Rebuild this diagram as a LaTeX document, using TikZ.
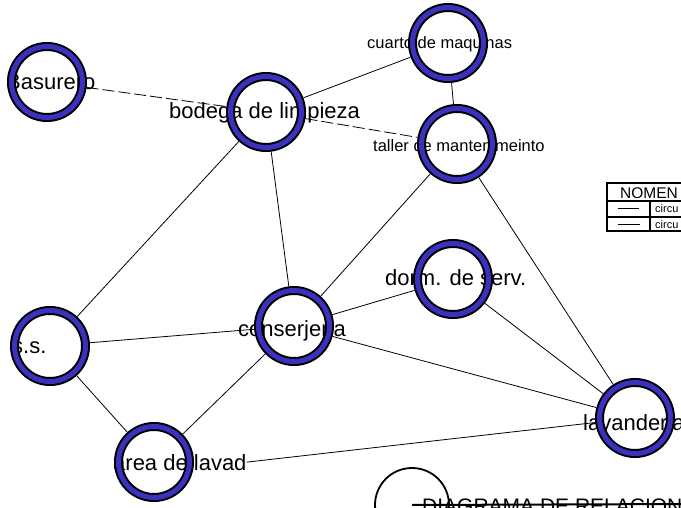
\documentclass[tikz,border=0pt]{standalone}
\usepackage{fontspec}
\setmainfont{Liberation Sans}
\usepackage{tikz}
\usepackage{xcolor}
\usetikzlibrary{positioning}
\definecolor{ringblue}{RGB}{58,50,190}

\begin{document}
\begin{tikzpicture}[x=1pt,y=-1pt,
  room/.style={circle,draw=black,line width=2pt,double=ringblue,double distance=5pt,minimum size=71pt,inner sep=0pt,outer sep=4.5pt},
  biglbl/.style={font=\fontsize{22}{24}\selectfont,inner sep=0pt,anchor=base west},
  smalllbl/.style={font=\fontsize{16.5}{18}\selectfont,inner sep=0pt,anchor=base west},
  link/.style={line width=.8pt},
  dlink/.style={line width=.8pt,dash pattern=on 12pt off 4pt}]
\useasboundingbox (0,0) rectangle (681,508);
\clip (0,0) rectangle (681,508);
% labels
\node[biglbl] (lbasurero) at (6,90) {Basurero};
\node[biglbl] (lbodega) at (169,119) {bodega de limpieza};
\node[smalllbl] (lcuarto) at (367,49) {cuarto de maquinas};
\node[smalllbl] (ltaller) at (373,152) {taller de mantenimeinto};
\node[biglbl] (ldorm) at (385,286) {dorm. de serv.};
\node[biglbl] (lconserjeria) at (238,336) {conserjeria};
\node[biglbl] (lss) at (12,353) {s.s.};
\node[biglbl] (larea) at (113,470) {area de lavad};
\node[biglbl] (llavanderia) at (583,430) {lavanderia};
% rooms
\node[room] (basurero) at (47,82) {};
\node[room] (cuarto) at (448,43) {};
\node[room] (taller) at (457,144) {};
\node[room] (bodega) at (266,112) {};
\node[room] (dorm) at (453,279) {};
\node[room] (conserjeria) at (294,326) {};
\node[room] (ss) at (50,346) {};
\node[room] (area) at (154,462) {};
\node[room] (lavanderia) at (635,418) {};
% relations
\draw[dlink] (basurero) -- (bodega);
\draw[dlink] (bodega) -- (taller);
\draw[link] (bodega) -- (cuarto);
\draw[link] (cuarto) -- (taller);
\draw[link] (bodega) -- (conserjeria);
\draw[link] (bodega) -- (ss);
\draw[link] (taller) -- (conserjeria);
\draw[link] (taller) -- (lavanderia);
\draw[link] (dorm) -- (conserjeria);
\draw[link] (dorm) -- (lavanderia);
\draw[link] (conserjeria) -- (ss);
\draw[link] (conserjeria) -- (area);
\draw[link] (conserjeria) -- (lavanderia);
\draw[link] (ss) -- (area);
\draw[link] (larea.east) -- (lavanderia);
% nomenclatura
\draw[line width=2pt] (607,183) rectangle (690,231);
\draw[line width=1.2pt] (607,201) -- (690,201) (607,217) -- (690,217) (650,201) -- (650,231);
\node[anchor=west,inner sep=0pt,font=\fontsize{15.5}{17}\selectfont] (nomen) at (620,193) {NOMEN};
\coordinate (muestraA) at (618,209);
\coordinate (muestraB) at (618,225);
\draw[line width=1pt] (muestraA) -- ++(21,0);
\draw[line width=1pt] (muestraB) -- ++(22,0);
\node[anchor=west,inner sep=0pt,font=\fontsize{11}{12}\selectfont] (circA) at (655,209) {circu};
\node[anchor=west,inner sep=0pt,font=\fontsize{11}{12}\selectfont] (circB) at (655,225) {circu};
% titulo
\node[circle,draw,line width=1.8pt,minimum size=74pt,inner sep=0pt] (sello) at (412,505) {};
\node[anchor=base west,inner sep=0pt,font=\fontsize{21}{24}\selectfont] (titulo) at (422,513) {DIAGRAMA DE RELACIONE};
\draw[line width=2pt] (sello.center) -- (690,504);
\end{tikzpicture}
\end{document}
